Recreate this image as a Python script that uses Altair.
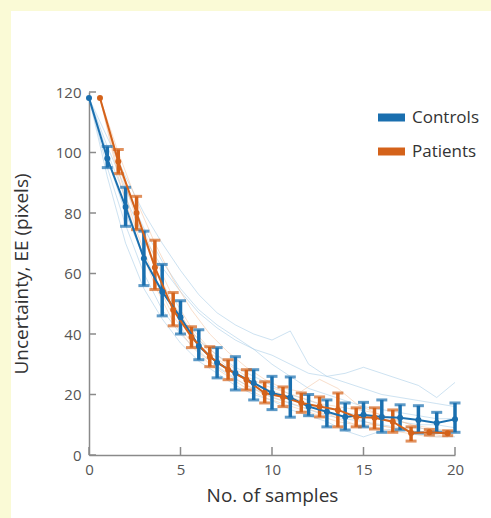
import altair as alt
import pandas as pd

# ---------------- data ----------------
ctrl_x = [0, 1, 2, 3, 4, 5, 6, 7, 8, 9, 10, 11, 12, 13, 14, 15, 16, 17, 18, 19, 20]
ctrl_mean = [118, 98, 82, 65, 54, 45.5, 36, 30.5, 27, 23.8, 20.5, 19, 16, 14.3, 12.6, 13.3, 12.6, 12.3, 11.6, 10.6, 11.8]
ctrl_lo = [118, 95, 75.6, 56, 46, 40, 31.5, 25.5, 21.5, 18.2, 15, 12.5, 13, 9.3, 8.3, 9.3, 7.5, 8.3, 7.3, 7.5, 7.5]
ctrl_hi = [118, 102, 88.5, 74, 63, 51, 41.4, 35.5, 32.5, 28.2, 26, 25.8, 20, 18.2, 17.2, 17.4, 18.2, 16.6, 16.3, 14.1, 17.2]

pat_x = [0.6, 1.6, 2.6, 3.6, 4.6, 5.6, 6.6, 7.6, 8.6, 9.6, 10.6, 11.6, 12.6, 13.6, 14.6, 15.6, 16.6, 17.6, 18.6, 19.6]
pat_mean = [118, 97, 80, 62, 48, 39, 32.5, 28.2, 24.9, 20.5, 19.2, 17.2, 16, 14.9, 12.6, 12.3, 11, 7.3, 7.5, 7.2]
pat_lo = [118, 93, 74.5, 54.7, 42.7, 35.5, 29.2, 24.9, 21.5, 17.2, 16, 14.1, 12.6, 9.3, 9.3, 8.6, 7.5, 4.6, 6.6, 6.4]
pat_hi = [118, 101, 85.5, 71, 53.7, 42.4, 35.8, 31.5, 28.2, 24.2, 22.5, 20.5, 19.2, 20.5, 15.6, 15.6, 14.9, 9.3, 8.4, 8.0]

# individual participants (faint lines)
ctrl_ind = [
    [118, 105, 92, 80, 70, 61, 53, 47, 43, 40, 38, 41, 30, 26, 24, 22, 20, 19, 18, 17, 16],
    [118, 100, 85, 72, 62, 54, 47, 42, 38, 35, 33, 30, 27, 26, 27, 29, 27, 25, 23, 19, 24],
    [118, 98, 80, 65, 54, 45, 38, 33, 29, 26, 23, 20, 18, 16, 14, 13, 12, 11, 10, 10, 9],
    [118, 95, 76, 60, 48, 40, 34, 29, 25, 22, 19, 17, 15, 13, 12, 11, 10, 9, 9, 8, 8],
    [118, 92, 70, 55, 45, 37, 31, 27, 23, 20, 18, 15, 13, 11, 8, 6, 8, 9, 7, 6, 6],
    [118, 102, 88, 75, 64, 55, 48, 43, 39, 35, 30, 26, 22, 20, 18, 16, 15, 14, 13, 12, 12],
]
pat_ind = [
    [118, 98, 80, 65, 52, 42, 35, 30, 26, 23, 21, 19, 17, 16, 15, 14, 12, 10, 9, 8],
    [118, 94, 74, 58, 46, 37, 31, 27, 23, 20, 18, 16, 14, 13, 12, 10, 9, 8, 7, 7],
    [118, 100, 84, 70, 58, 48, 40, 34, 29, 25, 22, 21, 25, 22, 17, 14, 12, 10, 8, 7],
    [118, 92, 72, 56, 44, 36, 30, 26, 22, 19, 17, 15, 13, 11, 10, 9, 8, 7, 6, 6],
    [118, 96, 78, 62, 50, 41, 34, 29, 25, 22, 20, 18, 15, 12, 10, 10, 9, 8, 7, 6],
]

groups = ["Controls", "Patients"]
x_ticks = [0, 5, 10, 15, 20]
y_ticks = [0, 20, 40, 60, 80, 100, 120]

# ---------------- tables ----------------
summary = pd.concat([
    pd.DataFrame({"x": ctrl_x, "m": ctrl_mean, "lo": ctrl_lo, "hi": ctrl_hi, "g": groups[0]}),
    pd.DataFrame({"x": pat_x, "m": pat_mean, "lo": pat_lo, "hi": pat_hi, "g": groups[1]}),
], ignore_index=True)
errs = summary[summary["hi"] > summary["lo"]]

rows = []
for i, ys_ in enumerate(ctrl_ind):
    for xv, yv in zip(ctrl_x, ys_):
        rows.append({"x": xv, "y": yv, "id": f"c{i}", "g": groups[0]})
for i, ys_ in enumerate(pat_ind):
    for xv, yv in zip(pat_x, ys_):
        rows.append({"x": xv, "y": yv, "id": f"p{i}", "g": groups[1]})
indiv = pd.DataFrame(rows)

BLUE = "#1a6faf"
ORANGE = "#d4621a"
LBLUE = "#9cc5e4"
LORANGE = "#f2bd98"
AXC = "#8a8a8a"
FONT = "Open Sans"
W, H = 366, 363

xs = alt.Scale(domain=[0, 20], nice=False)
ys = alt.Scale(domain=[0, 120], nice=False)
col = alt.Scale(domain=groups, range=[BLUE, ORANGE])
lcol = alt.Scale(domain=groups, range=[LBLUE, LORANGE])

x_axis = alt.Axis(values=x_ticks, ticks=False, grid=False, domainColor=AXC, domainWidth=1.5,
                  labelColor="#555", labelFontSize=15, labelPadding=7, labelFont=FONT,
                  labelFlush=False,
                  title="No. of samples", titleFontSize=19, titleFontWeight="normal",
                  titleColor="#333", titleFont=FONT, titlePadding=9)
y_axis = alt.Axis(values=y_ticks, ticks=False, grid=False, domainColor=AXC, domainWidth=1.5,
                  labelColor="#555", labelFontSize=15, labelPadding=8, labelFont=FONT,
                  labelFlush=False,
                  title="Uncertainty, EE (pixels)", titleFontSize=19, titleFontWeight="normal",
                  titleColor="#333", titleFont=FONT, titlePadding=24)


def X(f):
    return alt.X(f, scale=xs, axis=x_axis)


def Y(f):
    return alt.Y(f, scale=ys, axis=y_axis)


# decorative page frame
frame_df = pd.DataFrame({"k": [0]})
frame_top = alt.Chart(frame_df).mark_rect(color="#fafad6").encode(
    x=alt.value(-89), x2=alt.value(402), y=alt.value(-92), y2=alt.value(-81))
frame_left = alt.Chart(frame_df).mark_rect(color="#fafad6").encode(
    x=alt.value(-89), x2=alt.value(-78), y=alt.value(-92), y2=alt.value(426))

ind_lines = alt.Chart(indiv).mark_line(strokeWidth=1, opacity=0.5).encode(
    x=X("x:Q"), y=Y("y:Q"), detail="id:N",
    color=alt.Color("g:N", scale=lcol, legend=None),
)

base = alt.Chart(summary)
ebase = alt.Chart(errs)

bars = ebase.mark_rule(strokeWidth=3.5).encode(
    x=X("x:Q"), y=Y("lo:Q"), y2="hi:Q",
    color=alt.Color("g:N", scale=col, legend=None),
)
cap_lo = ebase.mark_tick(orient="horizontal", size=11, thickness=3).encode(
    x=X("x:Q"), y=Y("lo:Q"),
    color=alt.Color("g:N", scale=col, legend=None),
)
cap_hi = ebase.mark_tick(orient="horizontal", size=11, thickness=3).encode(
    x=X("x:Q"), y=Y("hi:Q"),
    color=alt.Color("g:N", scale=col, legend=None),
)
mean_line = base.mark_line(strokeWidth=2).encode(
    x=X("x:Q"), y=Y("m:Q"),
    color=alt.Color("g:N", scale=col, legend=None),
)
dots = base.mark_circle(size=36, opacity=1).encode(
    x=X("x:Q"), y=Y("m:Q"),
    color=alt.Color("g:N", scale=col, title=None, legend=alt.Legend(
        orient="none", legendX=294, legendY=17, title=None,
        symbolType="M-2.7,-0.8H2.7V0.8H-2.7Z", symbolSize=100, symbolStrokeWidth=0,
        labelFontSize=17, labelColor="#333", labelFont=FONT, labelOffset=12,
        rowPadding=16, padding=0)),
)

yt = alt.Chart(pd.DataFrame({"t": y_ticks})).mark_rule(color=AXC, strokeWidth=1.5).encode(
    y=Y("t:Q"), x=alt.value(0), x2=alt.value(7))
xt = alt.Chart(pd.DataFrame({"t": x_ticks})).mark_rule(color=AXC, strokeWidth=1.5).encode(
    x=X("t:Q"), y=alt.value(H), y2=alt.value(H - 8))

chart = alt.layer(
    frame_top, frame_left, ind_lines, yt, xt, bars, cap_lo, cap_hi, mean_line, dots
).resolve_scale(color="independent").properties(
    width=W, height=H,
    autosize=alt.AutoSizeParams(type="none"),
    padding={"left": 89, "top": 92, "right": 36, "bottom": 63},
    background="white",
).configure_view(stroke=None)

chart.save("out.html", embed_options={"renderer": "svg", "actions": False})
